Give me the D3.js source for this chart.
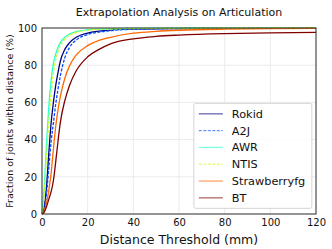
<!DOCTYPE html>
<head>
<meta charset="utf-8">
<script src="https://cdnjs.cloudflare.com/ajax/libs/d3/7.9.0/d3.min.js"></script>
<style>
  body { margin: 0; background: #fff; }
  text { font-family: "DejaVu Sans", sans-serif; fill: #111; }
</style>
</head>
<body>
<div id="chart"></div>
<script>

// thresholds (mm) and fraction of joints (%) for each method
const thresholds = [0, 1, 2, 3, 4, 5, 6, 7, 8, 10, 12, 15, 20, 25, 30, 40, 50, 60, 80, 100, 120]

const rokid = [0, 4, 15, 33, 49, 60, 69, 76, 82, 88.5, 92, 95, 97.3, 98.3, 98.9, 99.4, 99.6, 99.7, 99.85, 99.9, 100]
const a2j = [0, 3, 11, 25, 39, 49, 59, 67, 74, 84, 89.5, 93.5, 96.5, 97.8, 98.6, 99.3, 99.6, 99.7, 99.85, 99.9, 100]
const awr = [0, 15, 38, 58, 72, 81, 86, 89.5, 92, 95, 96.8, 98, 99, 99.4, 99.6, 99.8, 99.9, 100, 100, 100, 100]
const ntis = [0, 11, 31, 50, 65, 76, 83, 87.5, 90.5, 94, 96, 97.6, 98.8, 99.3, 99.5, 99.7, 99.8, 99.9, 100, 100, 100]
const strawberry = [0, 2, 6, 13, 22, 35, 47, 56, 63, 73, 79.5, 85.5, 90.5, 93.3, 95, 97.2, 98.2, 98.8, 99.4, 99.7, 99.8]
const bt = [0, 1, 4, 8, 12, 18, 28, 39, 49, 61, 69, 77, 84.5, 88.5, 91.5, 94.2, 95.5, 96.2, 97, 97.4, 97.6]

const methods = ["Rokid", "A2J", "AWR", "NTIS", "Strawberryfg", "BT"]
const seriesValues = [rokid, a2j, awr, ntis, strawberry, bt]

const xTicks = [0, 20, 40, 60, 80, 100, 120]
const yTicks = [0, 20, 40, 60, 80, 100]

const colors = ["#00007f", "#004cff", "#29ffce", "#ceff29", "#ff6800", "#7f0000"]
const dashed = [false, true, false, true, false, false]

const W = 332, H = 249
const margin = {top: 28, right: 16, bottom: 35, left: 42}
const width = W - margin.left - margin.right
const height = H - margin.top - margin.bottom

const svg = d3.select("#chart").append("svg")
    .attr("width", W)
    .attr("height", H)

const g = svg.append("g")
    .attr("transform", `translate(${margin.left},${margin.top})`)

const x = d3.scaleLinear().domain([0, 120]).range([0, width])
const y = d3.scaleLinear().domain([0, 100]).range([height, 0])

// grid
g.append("g")
    .selectAll("line")
    .data(xTicks)
    .join("line")
    .attr("x1", d => x(d)).attr("x2", d => x(d))
    .attr("y1", 0).attr("y2", height)
    .attr("stroke", "#ebebeb")

g.append("g")
    .selectAll("line")
    .data(yTicks)
    .join("line")
    .attr("y1", d => y(d)).attr("y2", d => y(d))
    .attr("x1", 0).attr("x2", width)
    .attr("stroke", "#ebebeb")

// axes, no tick marks
const xAxis = g.append("g")
    .attr("transform", `translate(0,${height})`)
    .call(d3.axisBottom(x).tickValues(xTicks).tickSize(0).tickPadding(5))
const yAxis = g.append("g")
    .call(d3.axisLeft(y).tickValues(yTicks).tickSize(0).tickPadding(5))

xAxis.select(".domain").remove()
yAxis.select(".domain").remove()
xAxis.selectAll("text").attr("font-size", 10).attr("font-family", "DejaVu Sans")
yAxis.selectAll("text").attr("font-size", 10).attr("font-family", "DejaVu Sans")

// lines
const line = d3.line()
    .x((d, i) => x(thresholds[i]))
    .y(d => y(d))
    .curve(d3.curveMonotoneX)

g.append("g")
    .selectAll("path")
    .data(seriesValues)
    .join("path")
    .attr("fill", "none")
    .attr("stroke", (d, i) => colors[i])
    .attr("stroke-width", 1.3)
    .attr("stroke-dasharray", (d, i) => dashed[i] ? "3,1.5" : null)
    .attr("d", line)

// frame
g.append("rect")
    .attr("width", width)
    .attr("height", height)
    .attr("fill", "none")
    .attr("stroke", "#333")
    .attr("stroke-width", 1)

// legend
const legend = g.append("g")
    .attr("transform", `translate(${x(66.5)},${y(59.5)})`)

legend.append("rect")
    .attr("width", 118)
    .attr("height", 105)
    .attr("rx", 2)
    .attr("fill", "rgba(255,255,255,0.85)")
    .attr("stroke", "#d5d5d5")

const item = legend.selectAll(".item")
    .data(methods)
    .join("g")
    .attr("class", "item")
    .attr("transform", (d, i) => `translate(0,${10.5 + i * 16.8})`)

item.append("line")
    .attr("x1", 5).attr("x2", 29)
    .attr("stroke", (d, i) => colors[i])
    .attr("stroke-opacity", 0.6)
    .attr("stroke-width", 1.3)
    .attr("stroke-dasharray", (d, i) => dashed[i] ? "3,1.5" : null)

item.append("text")
    .attr("x", 38)
    .attr("dy", "0.35em")
    .attr("font-size", 11.3)
    .text(d => d)

// title and labels
svg.append("text")
    .attr("x", margin.left + width / 2)
    .attr("y", 16)
    .attr("text-anchor", "middle")
    .attr("font-size", 11)
    .text("Extrapolation Analysis on Articulation")

svg.append("text")
    .attr("x", margin.left + width / 2)
    .attr("y", 244)
    .attr("text-anchor", "middle")
    .attr("font-size", 12.5)
    .text("Distance Threshold (mm)")

svg.append("text")
    .attr("transform", `translate(13,${margin.top + height / 2}) rotate(-90)`)
    .attr("text-anchor", "middle")
    .attr("font-size", 9.5)
    .text("Fraction of joints within distance (%)")

</script>
</body>
